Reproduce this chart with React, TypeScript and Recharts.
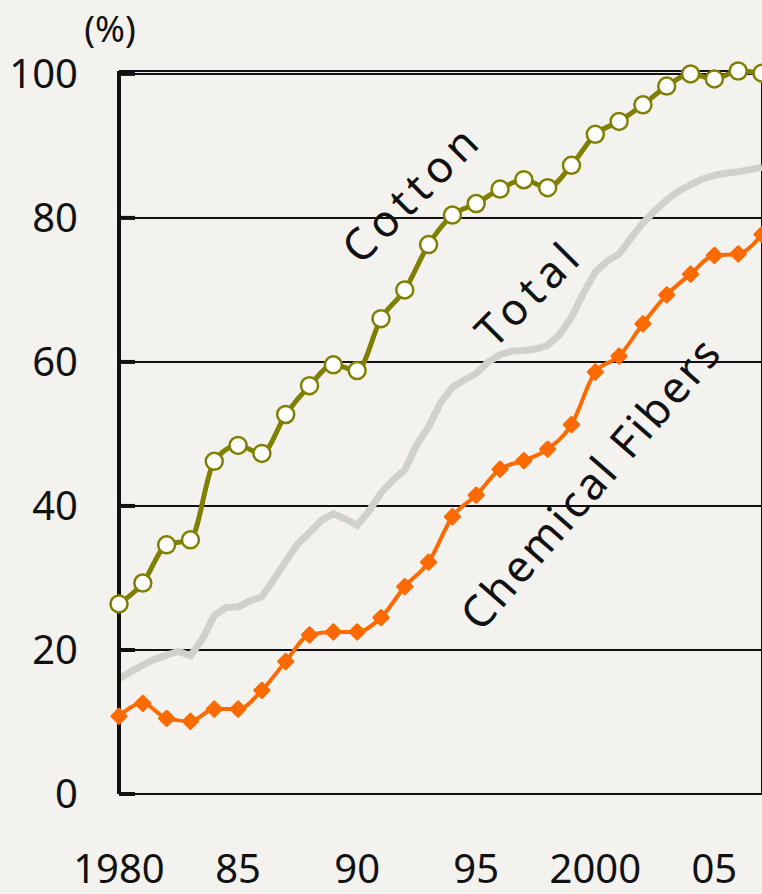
import { LineChart, Line, XAxis, YAxis, CartesianGrid, ReferenceLine, Customized } from 'recharts';

const years = [
  1980, 1981, 1982, 1983, 1984, 1985, 1986, 1987, 1988, 1989, 1990, 1991, 1992, 1993,
  1994, 1995, 1996, 1997, 1998, 1999, 2000, 2001, 2002, 2003, 2004, 2005, 2006, 2007,
];
const cotton = [
  26.4, 29.3, 34.6, 35.3, 46.2, 48.4, 47.3, 52.7, 56.7, 59.6, 58.8, 66.0, 70.0, 76.3,
  80.4, 82.0, 84.0, 85.3, 84.2, 87.3, 91.6, 93.4, 95.7, 98.3, 100.0, 99.3, 100.4, 100.1,
];
const chemicalFibers = [
  10.8, 12.6, 10.5, 10.1, 11.8, 11.8, 14.4, 18.4, 22.1, 22.5, 22.5, 24.5, 28.8, 32.2,
  38.5, 41.5, 45.1, 46.3, 47.9, 51.3, 58.6, 60.8, 65.3, 69.3, 72.2, 74.8, 75.0, 77.7,
];
// total is plotted at half-year steps
const totalYears = [
  1980, 1980.5, 1981, 1981.5, 1982, 1982.5, 1983, 1983.5, 1984, 1984.5, 1985, 1985.5,
  1986, 1986.5, 1987, 1987.5, 1988, 1988.5, 1989, 1989.5, 1990, 1990.5, 1991, 1991.5,
  1992, 1992.5, 1993, 1993.5, 1994, 1994.5, 1995, 1995.5, 1996, 1996.5, 1997, 1997.5,
  1998, 1998.5, 1999, 1999.5, 2000, 2000.5, 2001, 2001.5, 2002, 2002.5, 2003, 2003.5,
  2004, 2004.5, 2005, 2005.5, 2006, 2006.5, 2007,
];
const total = [
  16.0, 17.0, 17.9, 18.7, 19.3, 19.8, 19.2, 21.5, 24.8, 25.9, 26.0, 26.8,
  27.4, 29.8, 32.3, 34.7, 36.3, 38.0, 38.9, 38.2, 37.3, 39.3, 41.8, 43.6,
  45.0, 48.5, 51.0, 54.3, 56.5, 57.5, 58.4, 60.0, 61.0, 61.5, 61.6, 61.8,
  62.3, 63.8, 66.2, 69.5, 72.5, 74.0, 75.0, 77.2, 79.3, 81.0, 82.5, 83.7,
  84.6, 85.4, 85.9, 86.2, 86.4, 86.7, 87.0,
];
const xTicks = [1980, 1985, 1990, 1995, 2000, 2005];
const xTickLabels = ['1980', '85', '90', '95', '2000', '05'];
const yTicks = [0, 20, 40, 60, 80, 100];

const cottonData = years.map((year, i) => ({ year, value: cotton[i] }));
const chemData = years.map((year, i) => ({ year, value: chemicalFibers[i] }));
const totalData = totalYears.map((year, i) => ({ year, value: total[i] }));

const FONT = '"Noto Sans", sans-serif';

const XTick = (props: any) => {
  const { x, y, payload } = props;
  const idx = xTicks.indexOf(payload.value);
  return (
    <text x={x} y={y} dy="0.71em" textAnchor="middle" fontFamily={FONT} fontSize={40} fill="#111">
      {idx >= 0 ? xTickLabels[idx] : payload.value}
    </text>
  );
};

const YTick = (props: any) => {
  const { x, y, payload } = props;
  return (
    <g>
      <text x={x} y={y} dy="0.355em" textAnchor="end" fontFamily={FONT} fontSize={40} fill="#111">
        {payload.value}
      </text>
      <line x1={x + 41} x2={x + 57} y1={y} y2={y} stroke="#111" strokeWidth={4} />
    </g>
  );
};

const Diamond = (props: any) => {
  const { cx, cy } = props;
  if (cx == null || cy == null) return null;
  return (
    <rect
      x={cx - 6.5}
      y={cy - 6.5}
      width={13}
      height={13}
      rx={1.5}
      fill="#ff6a00"
      transform={`rotate(45 ${cx} ${cy})`}
    />
  );
};

const Annotations = () => (
  <g fontFamily={FONT} fill="#111">
    <text x={110} y={28} textAnchor="middle" dominantBaseline="central" fontSize={36}>
      (%)
    </text>
    <text
      x={411}
      y={192}
      textAnchor="middle"
      dominantBaseline="central"
      fontSize={44}
      letterSpacing={6}
      transform="rotate(-45 411 192)"
    >
      Cotton
    </text>
    <text
      x={528}
      y={292}
      textAnchor="middle"
      dominantBaseline="central"
      fontSize={44}
      letterSpacing={6}
      transform="rotate(-45 528 292)"
    >
      Total
    </text>
    <text
      x={590}
      y={482}
      textAnchor="middle"
      dominantBaseline="central"
      fontSize={44}
      letterSpacing={3}
      transform="rotate(-49 590 482)"
    >
      Chemical Fibers
    </text>
  </g>
);

export default function App() {
  return (
    <div style={{ position: 'absolute', left: 0, top: 0, width: 762, height: 894, background: '#f3f2ee' }}>
      <LineChart width={762} height={894} margin={{ top: 71, right: 0, bottom: 0, left: 0 }}>
        <CartesianGrid vertical={false} stroke="#111" strokeWidth={2} strokeOpacity={1} />
        <XAxis
          dataKey="year"
          type="number"
          domain={[1980, 2007]}
          ticks={xTicks}
          height={100}
          axisLine={{ stroke: '#111', strokeWidth: 2 }}
          tickLine={false}
          tickSize={0}
          tickMargin={61}
          tick={<XTick />}
          allowDuplicatedCategory={false}
        />
        <YAxis
          type="number"
          domain={[0, 100]}
          ticks={yTicks}
          width={119}
          axisLine={{ stroke: '#111', strokeWidth: 4 }}
          tickLine={false}
          tickSize={0}
          tickMargin={41}
          tick={<YTick />}
        />
        <ReferenceLine x={2007} stroke="#111" strokeWidth={2} />
        <Line
          data={totalData}
          dataKey="value"
          type="linear"
          stroke="#d1d1cc"
          strokeWidth={7}
          dot={false}
          isAnimationActive={false}
        />
        <Line
          data={cottonData}
          dataKey="value"
          type="monotone"
          stroke="#808000"
          strokeWidth={5}
          dot={{ r: 8.5, fill: '#fff', stroke: '#808000', strokeWidth: 2.5 }}
          isAnimationActive={false}
        />
        <Line
          data={chemData}
          dataKey="value"
          type="monotone"
          stroke="#ff6a00"
          strokeWidth={4}
          dot={<Diamond />}
          isAnimationActive={false}
        />
        <Customized component={<Annotations />} />
      </LineChart>
    </div>
  );
}
